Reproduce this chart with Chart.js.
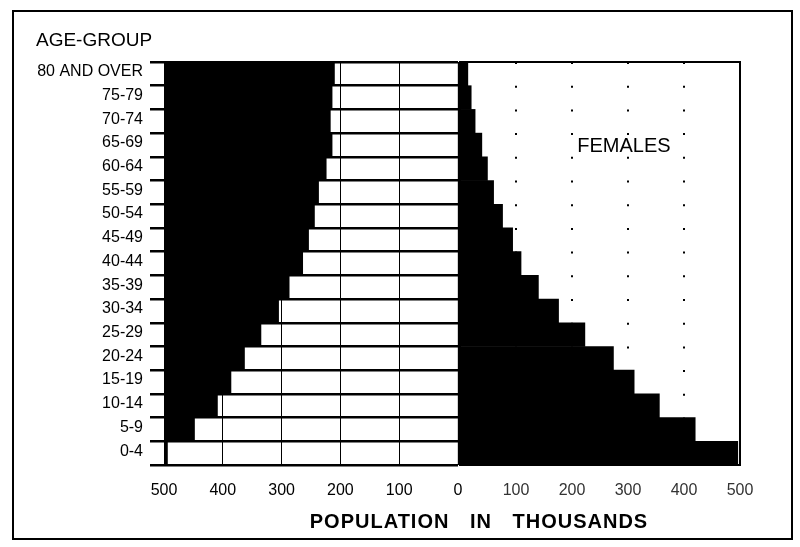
<!DOCTYPE html>
<html>
<head>
<meta charset="utf-8">
<script src="https://cdn.jsdelivr.net/npm/chart.js@4"></script>
<style>
  body { margin: 0; background: #fff; width: 800px; height: 547px; position: relative; overflow: hidden; font-family: "Liberation Sans", Arial, Helvetica, sans-serif; }
  #frame { position: absolute; left: 12px; top: 10px; width: 777px; height: 526px; border: 2px solid #000; }
  canvas { position: absolute; top: 0; }
  #leftChart { left: 0; }
  #rightChart { left: 458px; }
  .txt { position: absolute; line-height: 1; color: #000; white-space: nowrap; }
  #ageTitle { left: 36px; top: 30px; font-size: 19px; }
  #femLabel { left: 564px; top: 135px; width: 120px; text-align: center; font-size: 20px; }
  #xTitle { left: 279px; top: 511px; width: 400px; text-align: center; font-size: 20px; font-weight: bold; letter-spacing: 1px; word-spacing: 14px; }
</style>
</head>
<body>
<div id="frame"></div>
<canvas id="leftChart" width="472" height="547"></canvas>
<canvas id="rightChart" width="342" height="547"></canvas>
<div class="txt" id="ageTitle">AGE-GROUP</div>
<div class="txt" id="femLabel">FEMALES</div>
<div class="txt" id="xTitle">POPULATION IN THOUSANDS</div>
<script>
// age groups, top row first
const ageGroups = ["80 AND OVER", "75-79", "70-74", "65-69", "60-64", "55-59", "50-54", "45-49",
  "40-44", "35-39", "30-34", "25-29", "20-24", "15-19", "10-14", "5-9", "0-4"];
// population in thousands
const males = [209, 213, 216, 213, 223, 236, 243, 253, 263, 286, 304, 334, 362, 385, 408, 447, 493];
const females = [14, 20, 27, 39, 49, 60, 76, 94, 109, 140, 176, 223, 274, 311, 356, 420, 496];
const maleTicks = [0, 100, 200, 300, 400, 500];
const femaleTicks = [100, 200, 300, 400, 500];

const font = "'Liberation Sans', Arial, Helvetica, sans-serif";

// left panel: the part of the plot not covered by the male bar is black
const blackArea = {
  id: "blackArea",
  beforeDatasetsDraw(chart) {
    const a = chart.chartArea;
    const ctx = chart.ctx;
    ctx.save();
    ctx.fillStyle = "#000";
    ctx.fillRect(a.left, a.top, a.right - a.left, a.bottom - a.top);
    ctx.restore();
  }
};

const frameBox = {
  id: "frameBox",
  afterDraw(chart) {
    const a = chart.chartArea;
    const ctx = chart.ctx;
    ctx.save();
    ctx.strokeStyle = "#000";
    ctx.lineWidth = 2;
    ctx.strokeRect(a.left, a.top, a.right - a.left, a.bottom - a.top);
    ctx.restore();
  }
};

new Chart(document.getElementById("leftChart"), {
  type: "bar",
  data: {
    labels: ageGroups,
    datasets: [{
      label: "Males",
      data: males,
      backgroundColor: "#fff",
      borderWidth: 0,
      barPercentage: 1,
      categoryPercentage: 1
    }]
  },
  options: {
    indexAxis: "y",
    responsive: false,
    animation: false,
    devicePixelRatio: 1,
    layout: { padding: { left: 14, top: 62, right: 14, bottom: 0 } },
    plugins: { legend: { display: false }, tooltip: { enabled: false } },
    scales: {
      y: {
        afterFit: (s) => { s.width = 150; },
        grid: { z: 1, color: "#000", lineWidth: 2.5, offset: true, drawTicks: true, tickLength: 14 },
        border: { display: false },
        ticks: { color: "#000", font: { family: font, size: 16 }, padding: 7, labelOffset: -2 }
      },
      x: {
        min: 0,
        max: 500,
        reverse: true,
        afterFit: (s) => { s.height = 82; },
        afterBuildTicks: (s) => { s.ticks = maleTicks.map((v) => ({ value: v })); },
        grid: { z: 1, color: "#000", lineWidth: 1, drawTicks: false },
        border: { display: false },
        ticks: { color: "#000", font: { family: font, size: 16 }, padding: 16, maxRotation: 0 }
      }
    }
  },
  plugins: [blackArea]
});

new Chart(document.getElementById("rightChart"), {
  type: "bar",
  data: {
    labels: ageGroups,
    datasets: [{
      label: "Females",
      data: females,
      backgroundColor: "#000",
      borderWidth: 0,
      barPercentage: 1,
      categoryPercentage: 1
    }]
  },
  options: {
    indexAxis: "y",
    responsive: false,
    animation: false,
    devicePixelRatio: 1,
    layout: { padding: { left: 2, top: 62, right: 60, bottom: 0 } },
    plugins: { legend: { display: false }, tooltip: { enabled: false } },
    scales: {
      y: { display: false },
      x: {
        min: 0,
        max: 500,
        afterFit: (s) => { s.height = 82; },
        afterBuildTicks: (s) => { s.ticks = femaleTicks.map((v) => ({ value: v })); },
        grid: { color: "#000", lineWidth: 2, drawTicks: false },
        border: { display: false, dash: [2, 21.7] },
        ticks: { color: "#333", font: { family: font, size: 16 }, padding: 16, maxRotation: 0 }
      }
    }
  },
  plugins: [frameBox]
});
</script>
</body>
</html>
